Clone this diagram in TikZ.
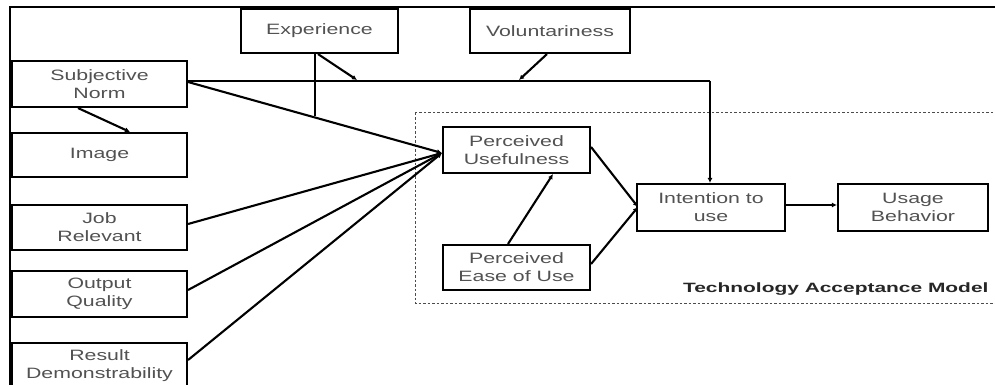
\documentclass[tikz,border=0pt]{standalone}
\usepackage{fontspec}
\setmainfont{Liberation Sans}[FakeStretch=1.42]
\newfontfamily\tamfont{Liberation Sans}[FakeStretch=1.55]
\usetikzlibrary{arrows.meta}
\begin{document}
\begin{tikzpicture}[x=1pt,y=-1pt,
  box/.style={draw=black,line width=2.1pt,fill=white,align=center,font=\fontsize{15}{18}\selectfont,text=black!68,inner sep=0pt},
  conn/.style={draw=black,line width=2.1pt},
  arr/.style={conn,-{Latex[length=5pt,width=5pt]}}]
\useasboundingbox (0,0) rectangle (995,385);
% frame
\draw[line width=2.1pt] (9,7) -- (996,7);
\draw[line width=2.1pt] (10,7) -- (10,386);
% dashed TAM box
\draw[dashed,line width=1pt,black!70,dash pattern=on 2.5pt off 2pt] (415,113) rectangle (1000,303);
\node[anchor=base east,font=\tamfont\bfseries\fontsize{13.5}{16}\selectfont,text=black!85] (tam) at (992,292) {Technology Acceptance Model};
% boxes
\node[box,minimum width=157,minimum height=44] (exp) at (319.5,31) {Experience};
\node[box,minimum width=160,minimum height=44] (vol) at (550,31) {Voluntariness};
\node[box,minimum width=175,minimum height=46] (sn) at (99.5,84) {Subjective\\Norm};
\node[box,minimum width=175,minimum height=44] (img) at (99.5,155) {Image};
\node[box,minimum width=175,minimum height=45] (job) at (99.5,227.5) {Job\\Relevant};
\node[box,minimum width=175,minimum height=46] (oq) at (99.5,294) {Output\\Quality};
\node[box,minimum width=175,minimum height=46] (rd) at (99.5,366) {Result\\Demonstrability};
\node[box,minimum width=147,minimum height=46] (pu) at (516.5,150) {Perceived\\Usefulness};
\node[box,minimum width=147,minimum height=45] (peu) at (516.5,267.5) {Perceived\\Ease of Use};
\node[box,minimum width=148,minimum height=47] (int) at (711,207.5) {Intention to\\use};
\node[box,minimum width=150,minimum height=47] (ub) at (913,207.5) {Usage\\Behavior};
% junction coordinates
\coordinate (puin) at (442,153);
\coordinate (intin) at (638,207);
\coordinate (corner) at (710,81);
\coordinate (expj) at (315,116.5);
\coordinate (expm) at (357,80);
\coordinate (volm) at (519,80);
% connectors
\draw[conn] (sn.east |- 0,81) -- (corner);
\draw[arr] (corner) -- (int.north -| corner);
\draw[arr] (sn.east |- 0,82) -- (puin);
\draw[conn] (exp.south -| expj) -- (expj);
\draw[arr] (exp.south -| 318,0) -- (expm);
\draw[arr] (vol.south -| 547,0) -- (volm);
\draw[arr] (sn.south -| 78,0) -- (img.north -| 130,0);
\draw[arr] (job.east |- 0,224) -- (puin);
\draw[arr] (oq.east |- 0,290) -- (puin);
\draw[arr] (rd.east |- 0,360) -- (puin);
\draw[arr] (pu.east |- 0,147) -- (intin);
\draw[arr] (peu.east |- 0,264) -- (intin);
\draw[arr] (peu.north -| 508,0) -- (pu.south -| 553,0);
\draw[arr] (int.east |- 0,205) -- (ub.west |- 0,205);
\end{tikzpicture}
\end{document}
